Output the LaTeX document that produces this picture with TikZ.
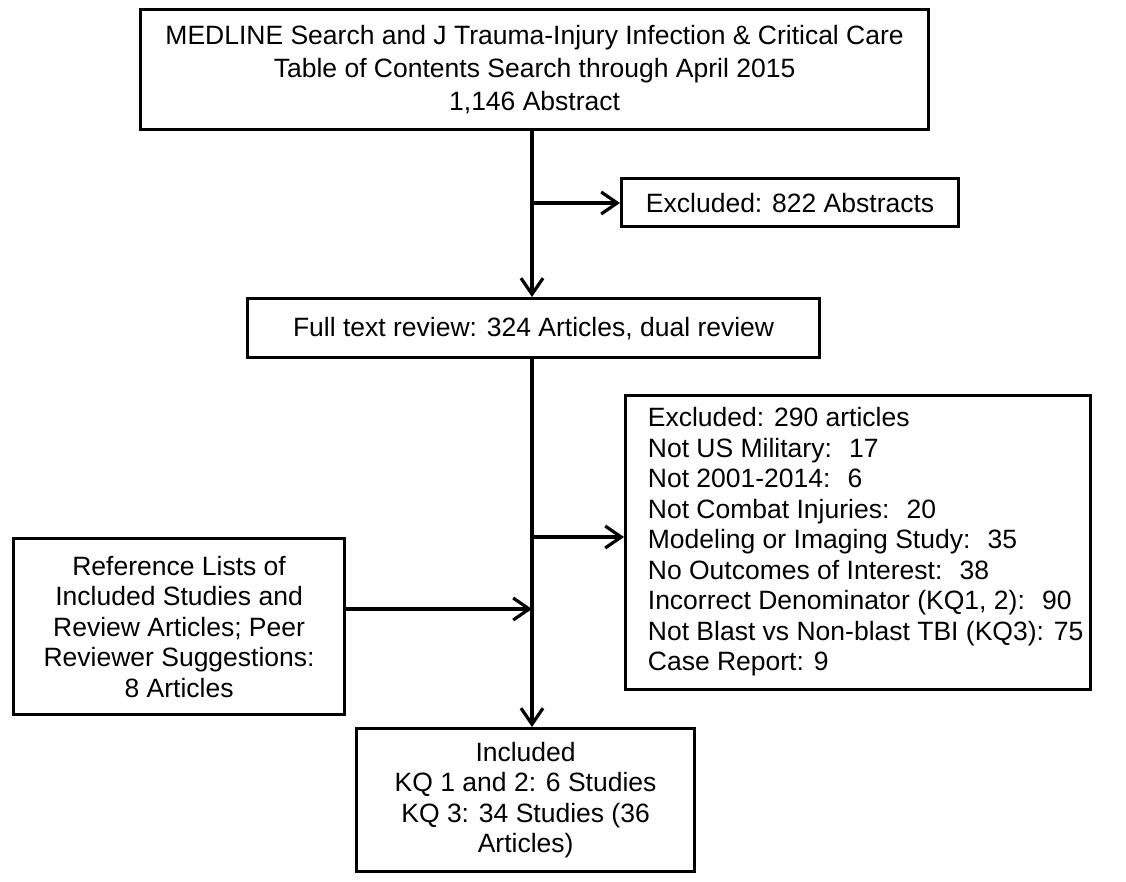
\documentclass[tikz,border=0pt]{standalone}
\usepackage{fontspec}
\setmainfont{Liberation Sans}
\usetikzlibrary{arrows.meta}
\newcommand\diagfont{\fontsize{26.5}{30.5}\selectfont}
\newcommand\diagfonttop{\fontsize{26.5}{33}\selectfont}
\tikzset{
  box/.style={draw=black, line width=3.2pt, rectangle, inner sep=0pt, align=center, font=\diagfont, anchor=north west},
  arr/.style={line width=3.2pt, -{Straight Barb[length=16pt,width=22pt]}},
}
\begin{document}
\begin{tikzpicture}[x=1pt,y=-1pt]
\fill[white] (0,0) rectangle (1126,881);
\useasboundingbox (0,0) rectangle (1126,881);

\node[box, minimum width=788pt, minimum height=120pt, font=\diagfonttop] (top) at (139,8)
  {MEDLINE Search and J Trauma-Injury Infection \& Critical Care\\Table of Contents Search through April 2015\\1,146 Abstract};

\node[box, minimum width=337pt, minimum height=48pt] (excla) at (620,177) {Excluded: 822 Abstracts};

\node[box, minimum width=572pt, minimum height=59pt] (full) at (246,297) {Full text review: 324 Articles, dual review};

\node[box, minimum width=465pt, minimum height=294pt] (exclb) at (624,394)
  {\begin{tabular}{@{}l@{\hspace{-15pt}}}
   Excluded: 290 articles\\
   Not US Military:~ 17\\
   Not 2001-2014:~ 6\\
   Not Combat Injuries:~ 20\\
   Modeling or Imaging Study:~ 35\\
   No Outcomes of Interest:~ 38\\
   Incorrect Denominator (KQ1, 2):~ 90\\
   Not Blast vs Non-blast TBI (KQ3): 75\\
   Case Report: 9
   \end{tabular}};

\node[box, minimum width=331pt, minimum height=176pt] (ref) at (12,537)
  {Reference Lists of\\Included Studies and\\Review Articles; Peer\\Reviewer Suggestions:\\8 Articles};

\node[box, minimum width=338pt, minimum height=143pt] (incl) at (355,727)
  {Included\\KQ 1 and 2: 6 Studies\\KQ 3: 34 Studies (36\\Articles)};

\coordinate (ja) at (532,203);
\coordinate (jb) at (532,537);
\coordinate (jc) at (532,609);

\draw[arr] (ja |- top.south) -- (ja |- full.north);
\draw[arr] (ja) -- (ja -| excla.west);
\draw[arr] (ja |- full.south) -- (ja |- incl.north);
\draw[arr] (jb) -- (jb -| exclb.west);
\draw[arr] (ref.east |- jc) -- (jc);
\end{tikzpicture}
\end{document}
